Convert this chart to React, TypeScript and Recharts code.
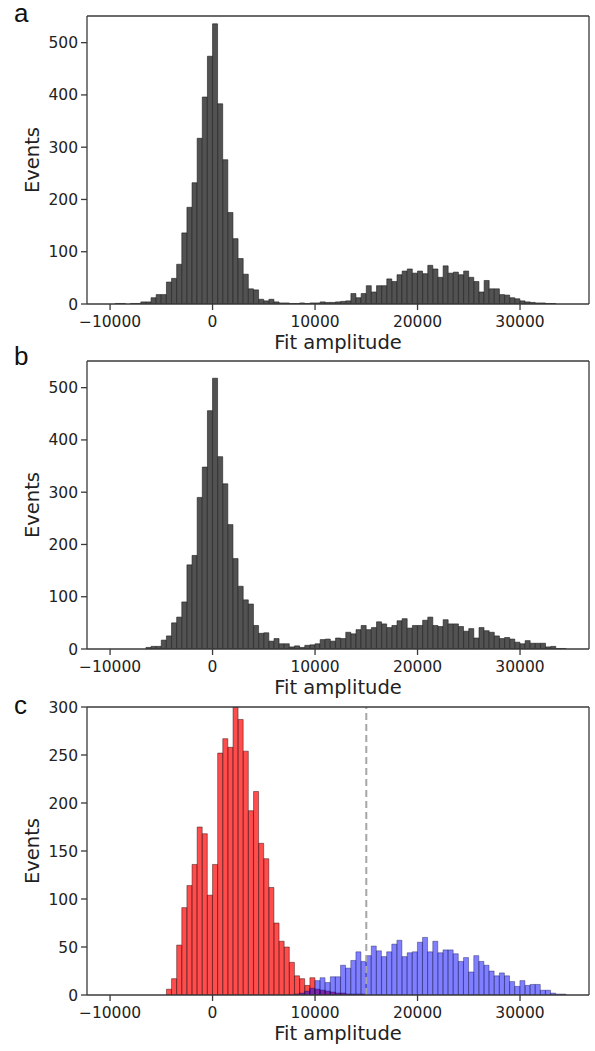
import { BarChart, Bar, XAxis, YAxis, ReferenceLine } from "recharts";

// histogram bins: 500 wide, from -10000 to 35000
const BIN_CENTERS = Array.from({ length: 90 }, (_, i) => -9750 + i * 500);

// panel a counts
const countsA = [
  0, 1, 1, 0, 1, 1, 4, 4, 12, 18,
  18, 42, 49, 76, 136, 185, 232, 317, 396, 474,
  536, 383, 276, 175, 125, 87, 57, 29, 27, 9,
  6, 9, 4, 2, 2, 1, 1, 2, 1, 2,
  2, 4, 3, 3, 4, 5, 6, 20, 12, 20,
  35, 23, 35, 35, 48, 43, 56, 63, 67, 59,
  63, 58, 74, 67, 51, 73, 59, 61, 56, 63,
  51, 43, 23, 45, 29, 29, 18, 17, 12, 10,
  6, 4, 3, 2, 2, 1, 1, 0, 0, 0,
];

// panel b counts
const countsB = [
  0, 0, 0, 0, 0, 0, 0, 3, 5, 5,
  17, 25, 50, 61, 90, 161, 179, 290, 348, 456,
  518, 368, 316, 238, 173, 120, 94, 86, 45, 30,
  31, 15, 20, 10, 10, 4, 6, 3, 7, 8,
  10, 18, 19, 15, 21, 20, 32, 29, 37, 45,
  37, 41, 52, 48, 41, 45, 54, 58, 40, 45,
  45, 55, 61, 45, 43, 56, 48, 48, 43, 34,
  39, 21, 41, 35, 32, 25, 20, 22, 19, 13,
  10, 16, 11, 11, 11, 4, 5, 1, 1, 0,
];

// panel c: events below the cut (red) and above it (blue)
const countsLow = [
  0, 0, 0, 0, 0, 0, 0, 0, 0, 0,
  0, 6, 17, 52, 91, 114, 136, 175, 168, 104,
  136, 252, 267, 258, 300, 287, 254, 192, 212, 158,
  142, 112, 75, 56, 50, 34, 20, 17, 10, 18,
  6, 5, 4, 3, 2, 2, 1, 1, 1, 1,
  0, 0, 0, 0, 0, 0, 0, 0, 0, 0,
  0, 0, 0, 0, 0, 0, 0, 0, 0, 0,
  0, 0, 0, 0, 0, 0, 0, 0, 0, 0,
  0, 0, 0, 0, 0, 0, 0, 0, 0, 0,
];
const countsHigh = [
  0, 0, 0, 0, 0, 0, 0, 0, 0, 0,
  0, 0, 0, 0, 0, 0, 0, 0, 0, 0,
  0, 0, 0, 0, 0, 0, 0, 0, 0, 0,
  0, 0, 0, 0, 0, 0, 1, 2, 4, 7,
  15, 18, 13, 19, 19, 31, 28, 36, 45, 35,
  41, 51, 46, 40, 45, 53, 57, 40, 44, 45,
  55, 60, 45, 56, 44, 47, 47, 43, 35, 39,
  24, 41, 35, 31, 25, 20, 23, 20, 14, 9,
  15, 10, 11, 11, 5, 5, 2, 1, 1, 0,
];

const X_TICKS = [-10000, 0, 10000, 20000, 30000];
const Y_TICKS_AB = [0, 100, 200, 300, 400, 500];
const Y_TICKS_C = [0, 50, 100, 150, 200, 250, 300];
const CUT = 15000;

const X_DOMAIN: [number, number] = [-12250, 36730];
const FONT = "'DejaVu Sans', sans-serif";
const AXIS_COLOR = "#3a3a3a";
const PLOT_H = 288;

const fmt = (v: number) => (v < 0 ? "\u2212" + Math.abs(v) : String(v));

const tickStyle = { fill: "#222", fontSize: 15.5, fontFamily: FONT };

const YTitle = (props: any) => {
  const vb = props.viewBox || {};
  const cx = 32;
  const cy = (vb.y ?? 0) + (vb.height ?? PLOT_H) / 2;
  return (
    <text
      x={cx}
      y={cy}
      transform={`rotate(-90 ${cx} ${cy})`}
      textAnchor="middle"
      dominantBaseline="central"
      fill="#222"
      fontSize={19.5}
      fontFamily={FONT}>
      Events
    </text>
  );
};

const XTitle = (props: any) => {
  const vb = props.viewBox || {};
  const cx = (vb.x ?? 87) + (vb.width ?? 502) / 2;
  const cy = (vb.y ?? 0) + 38;
  return (
    <text
      x={cx}
      y={cy}
      textAnchor="middle"
      dominantBaseline="central"
      fill="#222"
      fontSize={19.5}
      fontFamily={FONT}>
      Fit amplitude
    </text>
  );
};

type PanelProps = {
  letter: string;
  letterTop: number;
  top: number;
  height: number;
  marginTop: number;
  yMax: number;
  yTicks: number[];
  children: any;
  data: any[];
  overlap?: boolean;
};

function Panel({ letter, letterTop, top, height, marginTop, yMax, yTicks, data, children, overlap }: PanelProps) {
  return (
    <div style={{ position: "absolute", left: 0, top, width: 595, height }}>
      <div
        style={{
          position: "absolute",
          left: 14,
          top: letterTop,
          fontFamily: "'Liberation Sans', Arial, sans-serif",
          fontSize: 26,
          lineHeight: "26px",
          color: "#111",
        }}>
        {letter}
      </div>
      <BarChart
        width={595}
        height={height}
        data={data}
        margin={{ top: marginTop, right: 6, left: 27, bottom: 0 }}
        barCategoryGap={0}
        barGap={overlap ? "-100%" : 0}>
        <XAxis
          dataKey="x"
          type="number"
          domain={X_DOMAIN}
          allowDataOverflow
          ticks={X_TICKS}
          tickFormatter={fmt}
          tick={tickStyle}
          tickSize={6}
          tickMargin={6}
          height={height - marginTop - PLOT_H}
          stroke={AXIS_COLOR}
          strokeWidth={1.3}
          label={XTitle}
        />
        <YAxis
          type="number"
          domain={[0, yMax]}
          allowDataOverflow
          ticks={yTicks}
          tick={tickStyle}
          tickSize={6}
          tickMargin={3}
          width={60}
          stroke={AXIS_COLOR}
          strokeWidth={1.3}
          label={YTitle}
        />
        {children}
        {/* top and right edges of the frame */}
        <ReferenceLine y={yMax} stroke={AXIS_COLOR} strokeWidth={1.3} />
        <ReferenceLine x={X_DOMAIN[1]} stroke={AXIS_COLOR} strokeWidth={1.3} />
      </BarChart>
    </div>
  );
}

export default function App() {
  const dataA = BIN_CENTERS.map((x, i) => ({ x, n: countsA[i] }));
  const dataB = BIN_CENTERS.map((x, i) => ({ x, n: countsB[i] }));
  const dataC = BIN_CENTERS.map((x, i) => ({ x, low: countsLow[i], high: countsHigh[i] }));

  return (
    <div style={{ position: "relative", width: 595, height: 1051, background: "#fff" }}>
      <style>{`body{margin:0;background:#fff}`}</style>

      <Panel letter="a" letterTop={0} top={0} height={360} marginTop={16} yMax={551} yTicks={Y_TICKS_AB} data={dataA}>
        <Bar dataKey="n" fill="#525252" stroke="#1c1c1c" strokeWidth={0.6} isAnimationActive={false} />
      </Panel>

      <Panel letter="b" letterTop={-2} top={345} height={360} marginTop={16} yMax={551} yTicks={Y_TICKS_AB} data={dataB}>
        <Bar dataKey="n" fill="#525252" stroke="#1c1c1c" strokeWidth={0.6} isAnimationActive={false} />
      </Panel>

      <Panel letter="c" letterTop={2} top={690} height={361} marginTop={17} yMax={300} yTicks={Y_TICKS_C} data={dataC} overlap>
        <Bar dataKey="low" fill="rgba(255,0,0,0.7)" stroke="rgba(40,0,0,0.75)" strokeWidth={0.6} isAnimationActive={false} />
        <Bar dataKey="high" fill="rgba(0,0,255,0.5)" stroke="rgba(0,0,60,0.6)" strokeWidth={0.6} isAnimationActive={false} />
        <ReferenceLine x={CUT} stroke="#a6a6a6" strokeWidth={2} strokeDasharray="7 4" />
      </Panel>
    </div>
  );
}
